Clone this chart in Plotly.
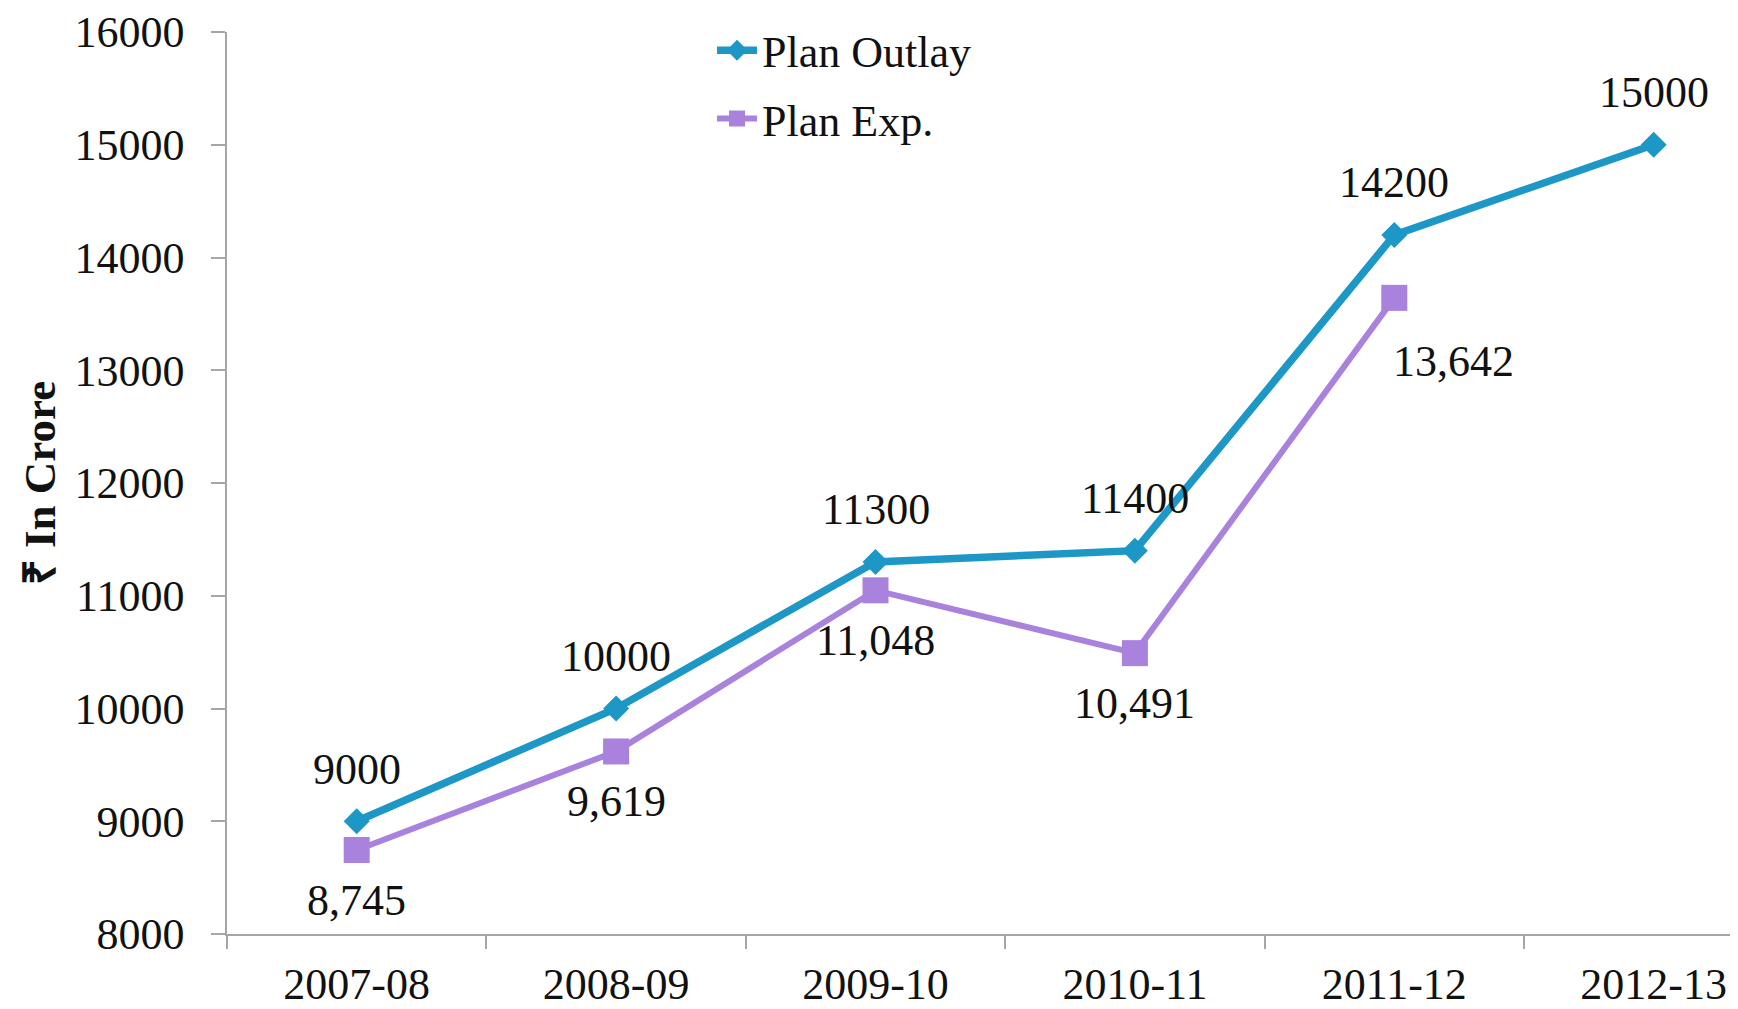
import plotly.graph_objects as go

years = ["2007-08", "2008-09", "2009-10", "2010-11", "2011-12", "2012-13"]
plan_outlay = [9000, 10000, 11300, 11400, 14200, 15000]
plan_exp = [8745, 9619, 11048, 10491, 13642]
outlay_labels = ["9000", "10000", "11300", "11400", "14200", "15000"]
exp_labels = ["8,745", "9,619", "11,048", "10,491", "13,642"]
y_ticks = [8000, 9000, 10000, 11000, 12000, 13000, 14000, 15000, 16000]
y_tick_text = ["8000", "9000", "10000", "11000", "12000", "13000", "14000", "15000", "16000"]

BLUE = "#1C97C6"
PURPLE = "#A882DD"
FONT = "Liberation Serif, Times New Roman, serif"
FS = 44

fig = go.Figure()
fig.add_trace(go.Scatter(
    x=years, y=plan_outlay, name="Plan Outlay", mode="lines+markers",
    line=dict(color=BLUE, width=7.5), marker=dict(symbol="diamond", size=20, color=BLUE),
    legendgroup="a",
))
fig.add_trace(go.Scatter(
    x=years[:len(plan_exp)], y=plan_exp, name="Plan Exp.", mode="lines+markers",
    line=dict(color=PURPLE, width=6), marker=dict(symbol="square", size=26, color=PURPLE),
    legendgroup="b",
))

annotations = []
for x, y, t in zip(years, plan_outlay, outlay_labels):
    annotations.append(dict(x=x, y=y, text=t, showarrow=False, yshift=52,
                            font=dict(family=FONT, size=FS, color="#111111")))
for i, (x, y, t) in enumerate(zip(years, plan_exp, exp_labels)):
    last = i == len(plan_exp) - 1
    annotations.append(dict(x=x, y=y, text=t, showarrow=False,
                            yshift=-64 if last else -50, xshift=59 if last else 0,
                            font=dict(family=FONT, size=FS, color="#111111")))

fig.update_layout(
    width=1730, height=1001,
    margin=dict(l=219, r=0, t=22, b=75),
    paper_bgcolor="white", plot_bgcolor="white",
    font=dict(family=FONT, size=FS, color="#111111"),
    showlegend=True,
    legend=dict(x=0.321, y=1.0187, xanchor="left", yanchor="top",
                font=dict(family=FONT, size=FS, color="#111111"),
                bgcolor="rgba(0,0,0,0)", tracegroupgap=8, traceorder="grouped",
                itemwidth=40),
    annotations=annotations,
    xaxis=dict(
        type="category", range=[-0.5, 5.325], showgrid=False, zeroline=False,
        showline=True, linecolor="#A6A6A6", linewidth=1.5,
        ticks="outside", tickson="boundaries", ticklen=13, tickcolor="#A6A6A6", tickwidth=1.5,
        tickfont=dict(family=FONT, size=FS, color="#111111"), ticklabelstandoff=10,
    ),
    yaxis=dict(
        range=[8000, 16000], tickvals=y_ticks, ticktext=y_tick_text,
        showgrid=False, zeroline=False,
        showline=True, linecolor="#A6A6A6", linewidth=1.5,
        ticks="outside", ticklen=14, tickcolor="#A6A6A6", tickwidth=1.5,
        tickfont=dict(family=FONT, size=FS, color="#111111"), ticklabelstandoff=18,
        ticklabeloverflow="allow",
        title=dict(text="<b>₹ In Crore</b>", font=dict(family=FONT, size=45, color="#111111"),
                   standoff=5),
    ),
)

fig.write_html("out.html")
